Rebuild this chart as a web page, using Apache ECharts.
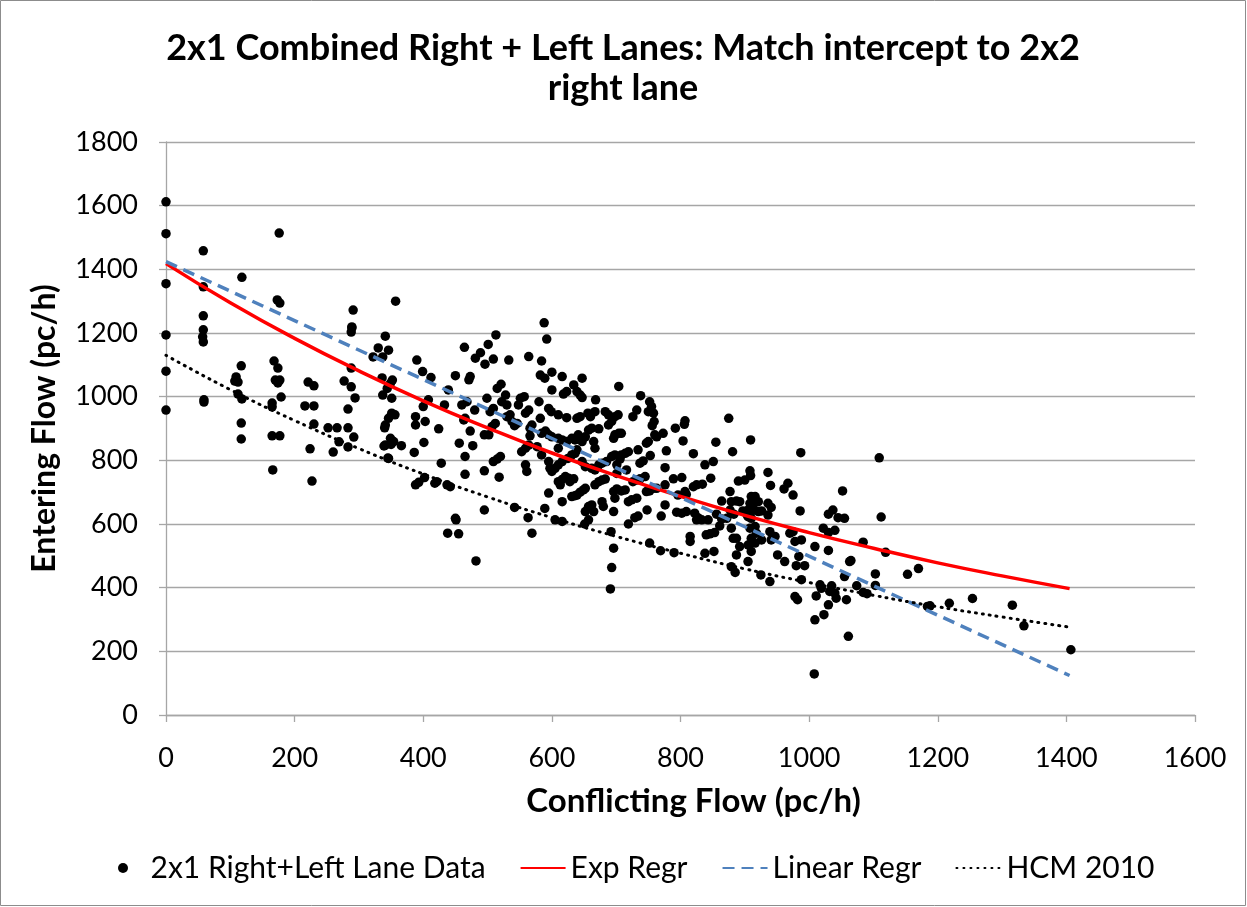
<!DOCTYPE html>
<html>
<head>
<meta charset="utf-8">
<title>2x1 Combined Right + Left Lanes</title>
<script src="https://cdn.jsdelivr.net/npm/echarts@6/dist/echarts.min.js"></script>
<style>
  html, body { margin: 0; padding: 0; background: #fff; }
  #chart { width: 1247px; height: 907px; }
</style>
</head>
<body>
<div id="chart"></div>
<script>
// observed points, [conflicting flow, entering flow] (pc/h)
const laneData = [
  [0, 1612], [0, 1512], [0, 1355], [0, 1194], [0, 1080], [0, 958],
  [58, 1458], [58, 1345], [58, 1254], [58, 1210], [57, 1188], [58, 1172], [59, 990], [59, 983],
  [118, 1375], [117, 1097], [109, 1062], [107, 1049], [112, 1046], [112, 1008], [118, 993], [117, 917], [117, 867],
  [176, 1514], [173, 1304], [177, 1294], [168, 1112], [174, 1090], [170, 1052], [177, 1052], [174, 1043],
  [179, 999], [165, 980], [165, 968], [165, 877], [177, 877], [166, 770],
  [221, 1046], [230, 1034], [216, 971], [230, 971], [230, 914], [224, 836], [227, 735],
  [291, 1272], [289, 1216], [289, 1219], [288, 1203], [288, 1090], [277, 1049], [288, 1031], [294, 996],
  [283, 961], [252, 902], [266, 902], [283, 902], [269, 858], [283, 842], [292, 873], [260, 826],
  [341, 1190], [330, 1153], [346, 1146], [322, 1125], [337, 1125], [357, 1300], [336, 1059], [337, 1005],
  [340, 902], [339, 845], [345, 807], [390, 1115],
  [344, 1026], [349, 1042], [352, 1052], [351, 995], [346, 932], [351, 948], [356, 943], [341, 911],
  [349, 869], [354, 859], [341, 848], [350, 850], [366, 846], [346, 806], [386, 825], [399, 1079],
  [412, 1060], [408, 990], [400, 969], [388, 937], [388, 911], [403, 922], [401, 856], [424, 899],
  [433, 974], [450, 1066], [473, 1063], [471, 1053], [481, 1121], [496, 1102], [509, 1118], [533, 1115],
  [564, 1126], [584, 1112], [489, 1138], [501, 1164], [513, 1194], [464, 1155], [588, 1232], [592, 1181],
  [439, 1021], [460, 974], [468, 984], [463, 927], [465, 932], [480, 958], [473, 892], [456, 854],
  [477, 846], [465, 812], [495, 880], [499, 995], [504, 953], [509, 963], [515, 1026], [521, 1039],
  [528, 1005], [530, 974], [522, 984], [535, 943], [530, 937], [538, 922], [507, 906], [512, 916],
  [502, 880], [509, 796], [515, 804], [520, 812], [495, 767], [518, 747], [465, 756], [450, 618],
  [495, 644], [428, 791], [437, 723], [442, 717], [421, 733], [418, 728], [402, 746], [388, 723], [393, 731],
  [551, 995], [557, 1000], [548, 974], [564, 958], [559, 948], [546, 916], [542, 909], [569, 911],
  [566, 901], [580, 984], [595, 963], [599, 953], [582, 932], [610, 943], [623, 934], [639, 932],
  [644, 937], [584, 885], [590, 892], [595, 880], [600, 874], [610, 869], [616, 864], [553, 827],
  [559, 838], [564, 848], [566, 877], [577, 843], [584, 817], [595, 796], [597, 775], [559, 786],
  [561, 765], [582, 1068], [589, 1058], [600, 1077], [616, 1063], [600, 1021], [623, 1016], [618, 1008],
  [634, 1037], [647, 1058], [639, 1016], [644, 1005], [647, 997], [668, 990], [656, 948], [660, 937],
  [667, 953], [657, 895], [662, 901], [652, 874], [673, 899], [683, 953], [688, 943], [698, 937],
  [693, 922], [688, 911], [698, 880], [704, 885], [696, 869], [704, 1032],
  [610, 838], [623, 859], [631, 869], [636, 864], [641, 880], [647, 859], [665, 859], [667, 838],
  [639, 833], [631, 817], [636, 822], [625, 806], [616, 796], [610, 786], [605, 775], [647, 796],
  [652, 780], [662, 775], [667, 770], [673, 786], [678, 791], [685, 796], [693, 812], [698, 817],
  [701, 786], [600, 765],
  [610, 733], [616, 740], [621, 749], [626, 744], [613, 723], [628, 733], [634, 742], [639, 691],
  [644, 700], [649, 707], [652, 712], [631, 686], [636, 689], [616, 670], [595, 697], [657, 655],
  [662, 660], [652, 639], [665, 639], [678, 670], [680, 655], [673, 733], [678, 738], [683, 741],
  [667, 723], [696, 702], [701, 710], [696, 639], [698, 681], [616, 608], [657, 613], [589, 649],
  [605, 613], [542, 652], [563, 620],
  [738, 1003], [752, 984], [755, 969], [750, 953], [758, 948], [732, 958], [726, 937], [703, 943],
  [759, 922], [756, 909], [773, 885], [760, 880], [763, 874], [750, 859], [747, 854], [792, 901],
  [807, 924], [806, 913], [804, 861], [778, 830], [734, 833], [719, 827], [714, 822], [708, 817],
  [708, 885], [753, 815], [742, 798], [737, 791], [706, 804], [776, 777], [716, 770], [701, 759],
  [745, 749], [726, 733], [732, 738], [737, 742], [714, 707], [708, 704], [747, 702], [752, 704],
  [758, 712], [763, 712], [776, 723], [789, 742], [802, 746], [820, 717], [825, 723], [834, 725],
  [838, 786], [851, 796], [855, 857], [820, 821], [875, 932], [881, 827], [909, 864], [847, 744],
  [807, 702], [809, 693], [796, 691], [776, 660], [719, 670], [724, 676], [732, 681], [748, 644],
  [729, 620], [734, 625], [770, 625], [794, 637], [802, 634], [809, 639], [822, 634], [827, 620],
  [833, 613], [825, 613], [843, 613], [856, 631], [864, 672], [877, 702], [877, 644], [879, 670],
  [887, 672], [892, 670], [890, 735], [900, 738], [908, 767], [909, 752], [910, 686], [916, 686],
  [908, 665], [913, 660], [921, 670], [905, 644], [910, 639], [897, 641], [903, 631], [883, 631],
  [926, 641], [921, 639], [936, 665], [941, 652], [936, 628], [905, 623], [910, 618], [936, 762],
  [940, 721], [961, 710], [967, 728], [975, 691], [987, 824], [986, 641], [1030, 631], [1037, 644],
  [1045, 620], [1055, 618], [1052, 704], [864, 616], [872, 618],
  [1109, 808], [1112, 622],
  [438, 571], [455, 569], [451, 613], [482, 484], [569, 571], [651, 600], [692, 576], [696, 524],
  [693, 463], [691, 396],
  [719, 600], [752, 540], [769, 516], [790, 510], [815, 561], [815, 545], [838, 508], [840, 566],
  [846, 569], [853, 573], [852, 514], [861, 594], [879, 587], [882, 555], [887, 555], [892, 529],
  [887, 503], [879, 466], [885, 448], [905, 482], [910, 514], [905, 534], [910, 555], [916, 540],
  [908, 587], [916, 592], [918, 571], [926, 550], [939, 576], [941, 550], [947, 561], [951, 503],
  [962, 482], [925, 440], [939, 419], [970, 571], [975, 576], [978, 545], [988, 550], [984, 498],
  [980, 469], [993, 469], [988, 425], [978, 372], [982, 362], [1009, 529], [1030, 517], [1022, 587],
  [1030, 573], [1040, 580], [1009, 299], [1023, 315], [1030, 346], [1011, 374], [1017, 409], [1019, 398],
  [1035, 406], [1032, 388], [1040, 383], [1042, 367], [1058, 362], [1055, 435], [1063, 482], [1061, 247],
  [1008, 129],
  [1084, 543], [1119, 511], [1065, 485], [1074, 406], [1090, 381], [1084, 385], [1103, 443], [1103, 407],
  [1153, 442], [1170, 460], [1184, 341], [1188, 343], [1218, 351], [1254, 366], [1316, 345], [1334, 280],
  [1407, 205]
]

// fitted curves, values
const curveX = [0, 100, 200, 300, 400, 500, 600, 700, 800, 900, 1000, 1100, 1200, 1300, 1405]
const expRegr = [1418, 1295, 1183, 1081, 987, 902, 823, 752, 687, 627, 573, 524, 478, 437, 397]
const hcm2010 = [1130, 1022, 925, 837, 757, 685, 620, 561, 508, 459, 416, 376, 340, 308, 276]
const linearX = [0, 1405]
const linearRegr = [1424, 124]

const xTicks = { min: 0, max: 1600, interval: 200 }
const yTicks = { min: 0, max: 1800, interval: 200 }

const pair = (xs, ys) => xs.map((x, i) => [x, ys[i]])

const font = 'Lato, "Open Sans", sans-serif'
const gray = '#a6a6a6'
const chart = echarts.init(document.getElementById('chart'))

chart.setOption({
  animation: false,
  textStyle: { fontFamily: font, color: '#000' },
  title: {
    text: '2x1 Combined Right + Left Lanes: Match intercept to 2x2\nright lane',
    left: 623,
    top: 28,
    padding: 0,
    textAlign: 'center',
    textStyle: { fontFamily: font, fontSize: 36, fontWeight: 'bold', lineHeight: 40, color: '#000' }
  },
  grid: { left: 166, top: 142, width: 1029, height: 573, containLabel: false },
  legend: {
    bottom: 19,
    left: 113,
    itemWidth: 45,
    itemHeight: 10,
    itemGap: 34,
    textStyle: { fontFamily: font, fontSize: 30, color: '#000' },
    data: [
      { name: '2x1 Right+Left Lane Data', icon: 'circle' },
      { name: 'Exp Regr', itemStyle: { opacity: 0 } },
      { name: 'Linear Regr', itemStyle: { opacity: 0 } },
      { name: 'HCM 2010', itemStyle: { opacity: 0 } }
    ]
  },
  xAxis: {
    type: 'value',
    min: xTicks.min,
    max: xTicks.max,
    interval: xTicks.interval,
    name: 'Conflicting Flow (pc/h)',
    nameLocation: 'middle',
    nameGap: 70,
    nameTextStyle: { fontFamily: font, fontSize: 33, fontWeight: 'bold', color: '#000', padding: [0, 0, 0, 26] },
    axisLine: { show: true, onZero: false, lineStyle: { color: gray, width: 1.3 } },
    axisTick: { show: true, length: 7, lineStyle: { color: gray, width: 1.3 } },
    axisLabel: { fontFamily: font, fontSize: 27, color: '#000', margin: 30, formatter: v => String(v) },
    splitLine: { show: false }
  },
  yAxis: {
    type: 'value',
    min: yTicks.min,
    max: yTicks.max,
    interval: yTicks.interval,
    name: 'Entering Flow (pc/h)',
    nameLocation: 'middle',
    nameGap: 105,
    nameTextStyle: { fontFamily: font, fontSize: 32, fontWeight: 'bold', color: '#000' },
    axisLine: { show: true, lineStyle: { color: gray, width: 1.3 } },
    axisTick: { show: true, length: 7, lineStyle: { color: gray, width: 1.3 } },
    axisLabel: { fontFamily: font, fontSize: 27, color: '#000', margin: 28, formatter: v => String(v) },
    splitLine: { show: true, lineStyle: { color: gray, width: 1.3 } }
  },
  graphic: [{
    type: 'rect',
    shape: { x: 0.5, y: 0.5, width: 1245, height: 905 },
    style: { fill: 'none', stroke: '#8c8c8c', lineWidth: 1 },
    silent: true
  }],
  series: [
    {
      name: '2x1 Right+Left Lane Data',
      type: 'scatter',
      data: laneData,
      symbol: 'circle',
      symbolSize: 9.5,
      itemStyle: { color: '#000', opacity: 1 },
      z: 2
    },
    {
      name: 'Exp Regr',
      type: 'line',
      data: pair(curveX, expRegr),
      smooth: true,
      showSymbol: false,
      symbol: 'none',
      lineStyle: { color: '#ff0000', width: 3.5 },
      itemStyle: { color: '#ff0000' },
      z: 4
    },
    {
      name: 'Linear Regr',
      type: 'line',
      data: pair(linearX, linearRegr),
      showSymbol: false,
      symbol: 'none',
      lineStyle: { color: '#4f81bd', width: 3.5, type: [12, 7] },
      itemStyle: { color: '#4f81bd' },
      z: 4
    },
    {
      name: 'HCM 2010',
      type: 'line',
      data: pair(curveX, hcm2010),
      smooth: true,
      showSymbol: false,
      symbol: 'none',
      lineStyle: { color: '#000', width: 3, type: [1, 6], cap: 'round' },
      itemStyle: { color: '#000' },
      z: 4
    }
  ]
})
</script>
</body>
</html>
